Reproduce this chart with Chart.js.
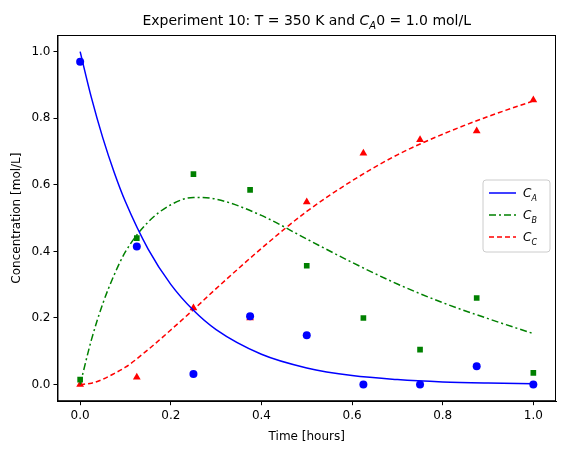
<!DOCTYPE html>
<html>
<head>
<meta charset="utf-8">
<script src="https://cdn.jsdelivr.net/npm/chart.js@4"></script>
<style>
  html, body { margin: 0; padding: 0; background: #fff; }
  #wrap { width: 567px; height: 454px; }
</style>
</head>
<body>
<div id="wrap"><canvas id="c"></canvas></div>
<script>
// measured points
const sampleTimes = [0, 0.125, 0.25, 0.375, 0.5, 0.625, 0.75, 0.875, 1.0];
const measCA = [0.97, 0.415, 0.032, 0.205, 0.148, 0.0, 0.0, 0.055, 0.0];
const measCB = [0.015, 0.44, 0.632, 0.585, 0.357, 0.2, 0.105, 0.26, 0.035];
const measCC = [0.0, 0.022, 0.23, 0.2, 0.548, 0.695, 0.735, 0.762, 0.855];

// model curves
const curveTimes = [0, 0.025, 0.05, 0.075, 0.1, 0.15, 0.2, 0.25, 0.3, 0.4, 0.5, 0.6, 0.7, 0.8, 0.9, 1.0];
const curveCA = [1.0, 0.861, 0.741, 0.638, 0.549, 0.407, 0.301, 0.223, 0.165, 0.091, 0.050, 0.027, 0.015, 0.008, 0.0045, 0.0025];
const curveCB = [0.0, 0.135, 0.243, 0.329, 0.399, 0.488, 0.540, 0.562, 0.557, 0.508, 0.437, 0.367, 0.302, 0.246, 0.198, 0.153];
const curveCC = [0.0, 0.004, 0.016, 0.033, 0.052, 0.105, 0.164, 0.225, 0.288, 0.409, 0.520, 0.612, 0.690, 0.752, 0.805, 0.852];

const xy = (xs, ys) => xs.map((x, i) => ({ x, y: ys[i] }));
const FONT = 'DejaVu Sans';

const legendItems = [
  { sub: 'A', color: '#0000ff', dash: [] },
  { sub: 'B', color: '#008000', dash: [7, 3, 2, 3] },
  { sub: 'C', color: '#ff0000', dash: [5, 3] }
];

function drawSub(ctx, x, y, main, sub, size) {
  ctx.font = `italic ${size}px "${FONT}"`;
  ctx.fillText(main, x, y);
  const w = ctx.measureText(main).width;
  ctx.font = `italic ${Math.round(size * 0.7)}px "${FONT}"`;
  ctx.fillText(sub, x + w, y + size * 0.3);
  return w + ctx.measureText(sub).width;
}

const decor = {
  id: 'decor',
  afterDraw(chart) {
    const ctx = chart.ctx, area = chart.chartArea;
    ctx.save();
    // frame
    ctx.strokeStyle = '#000';
    ctx.lineWidth = 1;
    ctx.strokeRect(area.left + 0.5, area.top + 0.5, area.right - area.left - 1, area.bottom - area.top - 1);
    // title
    ctx.fillStyle = '#000';
    ctx.textBaseline = 'alphabetic';
    const parts1 = 'Experiment 10: T = 350 K and ';
    const parts2 = '0 = 1.0 mol/L';
    ctx.font = `14px "${FONT}"`;
    const w1 = ctx.measureText(parts1).width;
    const w2 = ctx.measureText(parts2).width;
    ctx.font = `italic 14px "${FONT}"`;
    const wc = ctx.measureText('C').width;
    ctx.font = `italic 10px "${FONT}"`;
    const wa = ctx.measureText('A').width;
    let x = (area.left + area.right) / 2 - (w1 + wc + wa + w2) / 2;
    const y = area.top - 10;
    ctx.font = `14px "${FONT}"`;
    ctx.fillText(parts1, x, y); x += w1;
    x += drawSub(ctx, x, y, 'C', 'A', 14);
    ctx.font = `14px "${FONT}"`;
    ctx.fillText(parts2, x, y);

    // legend
    const lx = area.right - 73, ly = 180, lw = 67, lh = 72;
    ctx.fillStyle = 'rgba(255,255,255,0.8)';
    ctx.strokeStyle = '#cccccc';
    ctx.lineWidth = 1;
    ctx.beginPath();
    ctx.roundRect(lx, ly, lw, lh, 3);
    ctx.fill(); ctx.stroke();
    legendItems.forEach((it, i) => {
      const yy = ly + 13 + i * 22;
      ctx.strokeStyle = it.color;
      ctx.lineWidth = 1.5;
      ctx.setLineDash(it.dash);
      ctx.beginPath();
      ctx.moveTo(lx + 6, yy); ctx.lineTo(lx + 33, yy);
      ctx.stroke();
      ctx.setLineDash([]);
      ctx.fillStyle = '#000';
      drawSub(ctx, lx + 40, yy + 4, 'C', it.sub, 12);
    });
    ctx.restore();
  }
};

const lineDs = (data, color, dash) => ({
  type: 'line', data, borderColor: color, borderWidth: 1.5, borderDash: dash,
  pointRadius: 0, fill: false, tension: 0.4, cubicInterpolationMode: 'monotone'
});
const pointDs = (data, color, style) => ({
  type: 'scatter', data, backgroundColor: color, borderColor: color, borderWidth: 0,
  pointStyle: style, pointRadius: style === 'triangle' ? 4.5 : 4
});

const tickVals = [0, 0.2, 0.4, 0.6, 0.8, 1.0];

new Chart(document.getElementById('c'), {
  data: {
    datasets: [
      lineDs(xy(curveTimes, curveCA), '#0000ff', []),
      lineDs(xy(curveTimes, curveCB), '#008000', [7, 3, 2, 3]),
      lineDs(xy(curveTimes, curveCC), '#ff0000', [5, 3]),
      pointDs(xy(sampleTimes, measCA), '#0000ff', 'circle'),
      pointDs(xy(sampleTimes, measCB), '#008000', 'rect'),
      pointDs(xy(sampleTimes, measCC), '#ff0000', 'triangle')
    ]
  },
  options: {
    responsive: true, maintainAspectRatio: false, animation: false,
    layout: { padding: { top: 35, right: 11, left: 6, bottom: 6 } },
    plugins: { legend: { display: false }, tooltip: { enabled: false } },
    scales: {
      x: {
        type: 'linear', min: -0.05, max: 1.05,
        grid: { display: true, drawOnChartArea: false, drawTicks: true, tickLength: 4, color: '#000' },
        border: { color: '#000' },
        ticks: { color: '#000', font: { family: FONT, size: 12 }, callback: v => v.toFixed(1) },
        afterBuildTicks: s => { s.ticks = tickVals.map(v => ({ value: v })); },
        title: { display: true, text: 'Time [hours]', color: '#000', font: { family: FONT, size: 12 } }
      },
      y: {
        min: -0.05, max: 1.05,
        grid: { display: true, drawOnChartArea: false, drawTicks: true, tickLength: 4, color: '#000' },
        border: { color: '#000' },
        ticks: { color: '#000', font: { family: FONT, size: 12 }, callback: v => v.toFixed(1) },
        afterBuildTicks: s => { s.ticks = tickVals.map(v => ({ value: v })); },
        title: { display: true, text: 'Concentration [mol/L]', color: '#000', font: { family: FONT, size: 12 } }
      }
    }
  },
  plugins: [decor]
});
</script>
</body>
</html>
